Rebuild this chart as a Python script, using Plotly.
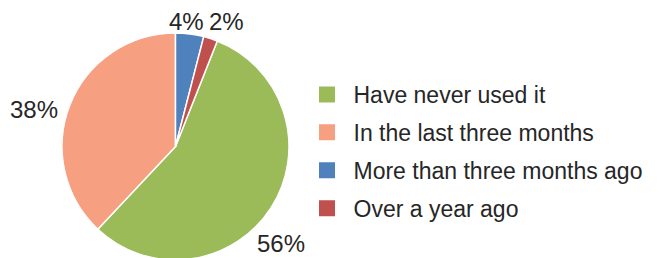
import math
import plotly.graph_objects as go

categories = ["Have never used it", "In the last three months", "More than three months ago", "Over a year ago"]
values = [56, 38, 4, 2]
colors = ["#9BBB59", "#F79F81", "#4F81BD", "#C0504D"]

TEXT = "#262626"
FONT = "Liberation Sans, Arial, sans-serif"
W, H = 659, 258
OFF = 8  # page body margin offset (px)
ROTATION = 21.6  # first slice starts here (degrees clockwise from 12 o'clock)

# pie geometry (figure pixels)
cx, cy, r = 175.5 - OFF, 146.5 - OFF, 113.5
dom_x = [(cx - r) / W, (cx + r) / W]
dom_y = [1 - (cy + r) / H, 1 - (cy - r) / H]

fig = go.Figure()
fig.add_trace(go.Pie(
    labels=categories, values=values, sort=False, direction="clockwise",
    rotation=ROTATION,
    marker=dict(colors=colors, line=dict(color="white", width=1.5)),
    textinfo="none", showlegend=False, hoverinfo="skip",
    domain=dict(x=dom_x, y=dom_y),
))

# outside percentage labels, placed along each slice's mid-angle
label_nudge = [(-11, 23), (-14, 14), (-5, 3), (11, -1)]  # small layout adjustments (px)
total = sum(values)
start = ROTATION
annotations = []
for v, (nx, ny) in zip(values, label_nudge):
    frac = v / total
    mid = math.radians(start + frac * 360 / 2)
    start += frac * 360
    s, c = math.sin(mid), -math.cos(mid)
    txt = f"{round(frac * 100)}%"
    bw = 11.5 * len(txt)
    bh = 20
    R = r + 4 + abs(s) * bw / 2 + abs(c) * bh / 2
    px = cx + R * s + nx
    py = cy + R * c + ny
    annotations.append(dict(
        x=px / W, y=1 - py / H, xref="paper", yref="paper",
        text=txt, showarrow=False, xanchor="center", yanchor="middle",
        font=dict(size=24, color=TEXT, family=FONT),
    ))

for i, (cat, col) in enumerate(zip(categories, colors)):
    fig.add_trace(go.Scatter(
        x=[None], y=[None], mode="markers", name=cat, legendgroup=str(i),
        marker=dict(symbol="square", size=16, color=col),
    ))

fig.update_layout(
    width=W, height=H,
    margin=dict(l=0, r=0, t=0, b=0),
    paper_bgcolor="white", plot_bgcolor="white",
    xaxis=dict(visible=False), yaxis=dict(visible=False),
    annotations=annotations,
    legend=dict(x=292.5 / W, y=1 - (151.5 - OFF) / H, xanchor="left", yanchor="middle",
                font=dict(size=23, color=TEXT, family=FONT),
                itemwidth=43, tracegroupgap=5, bgcolor="rgba(0,0,0,0)"),
    font=dict(family=FONT, color=TEXT),
)
fig.write_html("out.html")
